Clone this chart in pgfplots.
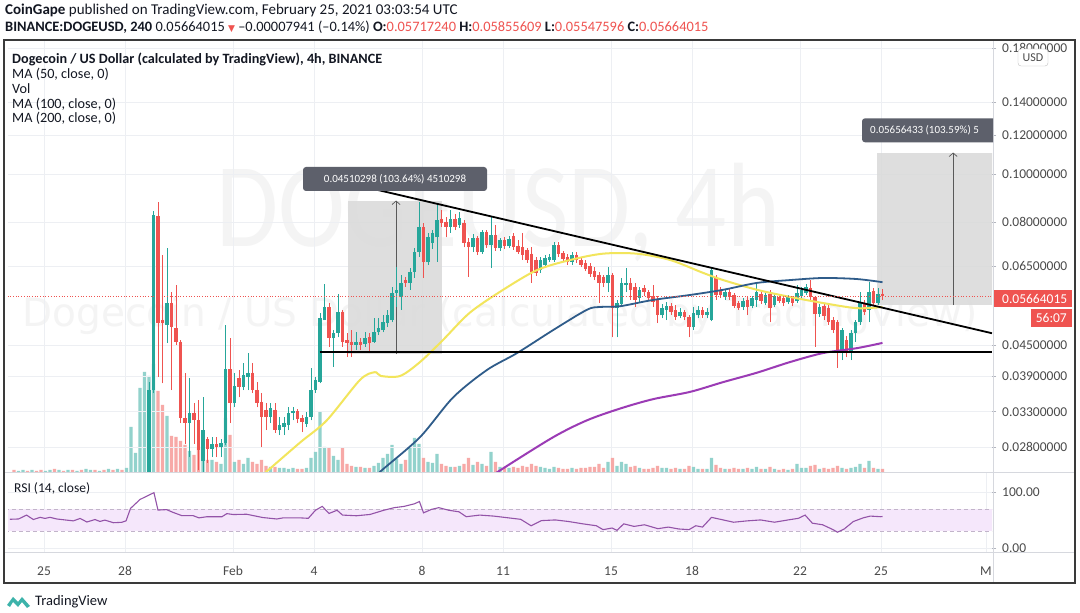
\documentclass[border=0pt]{standalone}
\usepackage{pgfplots}
\pgfplotsset{compat=1.18}
\usepackage{pgfplotstable}
\usepackage{fontspec}
\setmainfont{Carlito}
\newfontfamily\dejavu{DejaVu Sans}
\usetikzlibrary{arrows.meta}
\definecolor{up}{HTML}{26A69A}
\definecolor{dn}{HTML}{EF5350}
\definecolor{upv}{HTML}{92D2CC}
\definecolor{dnv}{HTML}{F7A9A7}
\definecolor{ma50}{HTML}{F2E55C}
\definecolor{ma100}{HTML}{2F5C8A}
\definecolor{ma200}{HTML}{9B3BB5}
\definecolor{rsic}{HTML}{9353A8}
\definecolor{rsiband}{HTML}{F5E7FB}
\definecolor{rsidash}{HTML}{C2B4CA}
\definecolor{lbl}{HTML}{5D606B}
\definecolor{gridc}{HTML}{EDEFF3}
\definecolor{tickc}{HTML}{B2B5BE}
\definecolor{txt}{HTML}{131722}
\definecolor{axt}{HTML}{4A4A4A}
\definecolor{framec}{HTML}{3A3A3A}
\definecolor{sepc}{HTML}{D6D8DE}
\definecolor{boxc}{HTML}{D9D9D9}
\definecolor{logoc}{HTML}{3DB3AA}
\newcommand\axfont{\fontsize{13.5}{15}\selectfont}

\pgfplotstableread{
k o h l c v
-30 0.0085 0.0088 0.0083 0.0087 1
-29 0.0085 0.0088 0.0083 0.0087 2
-27 0.0085 0.0088 0.0083 0.0087 2
-24 0.0085 0.0088 0.0083 0.0087 1
-23 0.0085 0.0088 0.0083 0.0087 2
-21 0.0085 0.0088 0.0083 0.0087 2
-19 0.0085 0.0088 0.0083 0.0087 2
-17 0.0085 0.0088 0.0083 0.0087 1
-15 0.0085 0.0088 0.0083 0.0087 3
-14 0.0085 0.0088 0.0083 0.0087 2
-12 0.0085 0.0088 0.0083 0.0087 1
-10 0.0085 0.0088 0.0083 0.0087 3
-8 0.0085 0.0088 0.0083 0.0087 3
-6 0.0085 0.0088 0.0083 0.0087 4
-5 0.0088 0.0105 0.0087 0.0102 45
-4 0.0102 0.0110 0.0098 0.0106 19
-3 0.0106 0.0135 0.0104 0.0130 84
-2 0.0130 0.0165 0.0125 0.0158 100
-1 0.0158 0.0380 0.0150 0.0365 96
0 0.0365 0.0843 0.0360 0.0826 108
3 0.0495 0.0709 0.0455 0.0548 56
8 0.0313 0.0387 0.0267 0.0328 21
11 0.0262 0.0353 0.0247 0.0303 30
13 0.0278 0.0293 0.0267 0.0284 12
15 0.0280 0.0290 0.0267 0.0285 8
16 0.0285 0.0495 0.0282 0.0403 54
18 0.0343 0.0396 0.0337 0.0372 10
20 0.0370 0.0415 0.0365 0.0392 8
21 0.0388 0.0434 0.0365 0.0396 14
26 0.0322 0.0343 0.0313 0.0336 5
28 0.0303 0.0322 0.0296 0.0310 4
29 0.0307 0.0322 0.0296 0.0313 4
30 0.0310 0.0337 0.0303 0.0328 3
31 0.0328 0.0337 0.0317 0.0331 4
34 0.0312 0.0330 0.0307 0.0322 4
35 0.0322 0.0405 0.0317 0.0365 14
36 0.0365 0.0388 0.0360 0.0383 20
37 0.0379 0.0523 0.0377 0.0511 60
38 0.0506 0.0599 0.0506 0.0538 25
40 0.0465 0.0483 0.0407 0.0476 16
41 0.0476 0.0572 0.0467 0.0526 12
45 0.0451 0.0478 0.0440 0.0458 5
47 0.0453 0.0478 0.0447 0.0465 4
49 0.0458 0.0511 0.0455 0.0478 6
50 0.0478 0.0511 0.0472 0.0487 9
51 0.0483 0.0518 0.0478 0.0501 14
52 0.0499 0.0531 0.0490 0.0518 18
53 0.0506 0.0591 0.0501 0.0574 27
54 0.0574 0.0648 0.0538 0.0583 13
55 0.0563 0.0625 0.0531 0.0601 8
57 0.0603 0.0645 0.0583 0.0633 25
58 0.0633 0.0709 0.0616 0.0695 34
59 0.0695 0.0878 0.0680 0.0780 28
61 0.0663 0.0760 0.0655 0.0745 10
62 0.0725 0.0771 0.0705 0.0760 9
63 0.0745 0.0866 0.0664 0.0807 18
66 0.0782 0.0846 0.0760 0.0812 5
68 0.0789 0.0838 0.0778 0.0814 6
71 0.0711 0.0755 0.0695 0.0742 7
73 0.0695 0.0771 0.0690 0.0764 8
75 0.0720 0.0818 0.0645 0.0753 20
77 0.0707 0.0742 0.0700 0.0735 5
79 0.0714 0.0750 0.0708 0.0738 4
86 0.0639 0.0680 0.0630 0.0670 5
87 0.0654 0.0686 0.0648 0.0675 4
88 0.0670 0.0690 0.0664 0.0680 3
89 0.0670 0.0728 0.0664 0.0718 5
93 0.0664 0.0695 0.0655 0.0686 4
101 0.0602 0.0648 0.0577 0.0625 10
103 0.0535 0.0556 0.0467 0.0548 6
104 0.0545 0.0616 0.0538 0.0602 10
105 0.0596 0.0645 0.0577 0.0602 8
108 0.0561 0.0591 0.0550 0.0583 4
113 0.0518 0.0545 0.0510 0.0535 4
114 0.0530 0.0551 0.0506 0.0540 4
117 0.0515 0.0535 0.0510 0.0526 3
120 0.0490 0.0538 0.0483 0.0523 5
121 0.0518 0.0540 0.0510 0.0531 3
123 0.0518 0.0535 0.0510 0.0526 3
124 0.0506 0.0645 0.0503 0.0639 14
127 0.0563 0.0583 0.0556 0.0577 3
131 0.0538 0.0561 0.0530 0.0553 3
133 0.0540 0.0566 0.0535 0.0561 3
134 0.0556 0.0602 0.0538 0.0577 5
136 0.0548 0.0575 0.0543 0.0569 3
138 0.0543 0.0572 0.0538 0.0566 3
141 0.0551 0.0569 0.0545 0.0563 2
143 0.0553 0.0596 0.0548 0.0575 8
144 0.0566 0.0591 0.0561 0.0583 4
145 0.0575 0.0599 0.0569 0.0591 4
148 0.0521 0.0545 0.0513 0.0538 3
153 0.0434 0.0487 0.0420 0.0483 4
155 0.0434 0.0483 0.0420 0.0476 4
156 0.0476 0.0506 0.0458 0.0501 5
157 0.0501 0.0577 0.0495 0.0551 8
159 0.0531 0.0604 0.0501 0.0577 11
161 0.0548 0.0588 0.0543 0.0572 3
}\up

\pgfplotstableread{
k o h l c v
-31 0.0087 0.0089 0.0084 0.0085 2
-28 0.0087 0.0089 0.0084 0.0085 1
-26 0.0087 0.0089 0.0084 0.0085 1
-25 0.0087 0.0089 0.0084 0.0085 2
-22 0.0087 0.0089 0.0084 0.0085 3
-20 0.0087 0.0089 0.0084 0.0085 1
-18 0.0087 0.0089 0.0084 0.0085 2
-16 0.0087 0.0089 0.0084 0.0085 2
-13 0.0087 0.0089 0.0084 0.0085 2
-11 0.0087 0.0089 0.0084 0.0085 2
-9 0.0087 0.0089 0.0084 0.0085 2
-7 0.0087 0.0089 0.0084 0.0085 2
1 0.0822 0.0878 0.0388 0.0500 81
2 0.0506 0.0686 0.0377 0.0500 67
4 0.0548 0.0577 0.0365 0.0490 36
5 0.0487 0.0596 0.0451 0.0458 35
6 0.0458 0.0461 0.0313 0.0320 31
7 0.0320 0.0396 0.0284 0.0313 27
9 0.0328 0.0343 0.0284 0.0317 17
10 0.0317 0.0348 0.0251 0.0276 25
12 0.0290 0.0293 0.0260 0.0278 12
14 0.0284 0.0293 0.0267 0.0280 10
17 0.0403 0.0465 0.0313 0.0343 37
19 0.0387 0.0401 0.0353 0.0370 12
22 0.0396 0.0415 0.0360 0.0365 10
23 0.0365 0.0379 0.0337 0.0343 8
24 0.0345 0.0360 0.0280 0.0322 12
25 0.0333 0.0343 0.0303 0.0322 6
27 0.0333 0.0343 0.0299 0.0303 5
32 0.0331 0.0334 0.0313 0.0319 3
33 0.0320 0.0325 0.0300 0.0315 3
39 0.0538 0.0548 0.0447 0.0465 24
42 0.0526 0.0531 0.0447 0.0458 24
43 0.0461 0.0476 0.0426 0.0455 8
44 0.0458 0.0483 0.0426 0.0451 6
46 0.0458 0.0465 0.0440 0.0451 5
48 0.0467 0.0476 0.0434 0.0455 4
56 0.0610 0.0619 0.0591 0.0603 12
60 0.0780 0.0796 0.0616 0.0663 14
64 0.0812 0.0846 0.0782 0.0796 8
65 0.0800 0.0818 0.0745 0.0780 6
67 0.0812 0.0830 0.0770 0.0782 5
69 0.0796 0.0807 0.0711 0.0725 8
70 0.0728 0.0742 0.0619 0.0711 14
72 0.0742 0.0750 0.0686 0.0695 10
74 0.0764 0.0771 0.0710 0.0720 6
76 0.0753 0.0789 0.0700 0.0707 10
78 0.0735 0.0745 0.0705 0.0714 5
80 0.0750 0.0760 0.0702 0.0711 5
81 0.0716 0.0735 0.0690 0.0695 4
82 0.0711 0.0760 0.0670 0.0686 6
83 0.0702 0.0710 0.0662 0.0670 5
84 0.0690 0.0711 0.0602 0.0633 8
85 0.0670 0.0680 0.0622 0.0630 6
90 0.0718 0.0728 0.0680 0.0690 4
91 0.0692 0.0700 0.0664 0.0674 3
92 0.0680 0.0690 0.0655 0.0664 3
94 0.0686 0.0695 0.0662 0.0670 3
95 0.0670 0.0680 0.0648 0.0654 4
96 0.0660 0.0670 0.0636 0.0642 4
97 0.0650 0.0660 0.0620 0.0628 5
98 0.0636 0.0648 0.0610 0.0619 5
99 0.0625 0.0633 0.0548 0.0602 8
100 0.0620 0.0625 0.0590 0.0602 4
102 0.0625 0.0630 0.0467 0.0535 14
106 0.0602 0.0616 0.0556 0.0583 5
107 0.0591 0.0602 0.0538 0.0556 6
109 0.0588 0.0596 0.0566 0.0577 3
110 0.0577 0.0583 0.0553 0.0561 3
111 0.0566 0.0596 0.0538 0.0551 4
112 0.0556 0.0566 0.0499 0.0518 6
115 0.0540 0.0548 0.0518 0.0526 3
116 0.0530 0.0543 0.0506 0.0513 4
118 0.0526 0.0530 0.0506 0.0513 3
119 0.0513 0.0518 0.0467 0.0490 6
122 0.0531 0.0538 0.0510 0.0518 3
125 0.0620 0.0625 0.0556 0.0569 7
126 0.0583 0.0591 0.0561 0.0569 4
128 0.0577 0.0585 0.0556 0.0563 3
129 0.0569 0.0575 0.0535 0.0540 4
130 0.0548 0.0553 0.0530 0.0535 3
132 0.0556 0.0563 0.0518 0.0538 4
135 0.0572 0.0580 0.0545 0.0553 3
137 0.0572 0.0583 0.0501 0.0535 5
139 0.0563 0.0569 0.0548 0.0553 2
140 0.0561 0.0566 0.0540 0.0548 3
142 0.0561 0.0566 0.0540 0.0548 3
146 0.0588 0.0610 0.0556 0.0563 6
147 0.0563 0.0566 0.0447 0.0521 7
149 0.0540 0.0545 0.0506 0.0515 4
150 0.0535 0.0543 0.0495 0.0501 3
151 0.0506 0.0513 0.0476 0.0483 4
152 0.0501 0.0506 0.0405 0.0434 6
154 0.0461 0.0470 0.0426 0.0434 3
158 0.0548 0.0556 0.0518 0.0526 4
160 0.0580 0.0588 0.0543 0.0548 4
162 0.05717240 0.05855609 0.05547596 0.05664015 3
}\dn

% build segment lists (x,a)(x,b)(x,nan) from the tables
\newcommand\buildsegs[4]{%
  \pgfplotstablegetrowsof{#1}%
  \pgfmathtruncatemacro\lastrow{\pgfplotsretval-1}%
  \gdef#4{}%
  \pgfplotsforeachungrouped \i in {0,...,\lastrow}{%
    \pgfplotstablegetelem{\i}{k}\of{#1}\let\segk\pgfplotsretval
    \pgfplotstablegetelem{\i}{#2}\of{#1}\let\sega\pgfplotsretval
    \pgfplotstablegetelem{\i}{#3}\of{#1}\let\segb\pgfplotsretval
    \xdef#4{#4 (\segk,\sega) (\segk,\segb) (\segk,nan)}%
  }%
}
\buildsegs{\up}{l}{h}\upwick
\buildsegs{\dn}{l}{h}\dnwick
\buildsegs{\up}{o}{c}\upbody
\buildsegs{\dn}{o}{c}\dnbody

\begin{document}
\begin{tikzpicture}[x=1pt,y=1pt]
\fill[white] (0pt,0pt) rectangle (1080pt,613pt);
% watermarks
\node[anchor=base west, text=black!4.5, inner sep=0, xscale=0.84, font=\fontsize{120}{120}\selectfont] at (216pt,366pt) {DOGEUSD, 4h};
\node[anchor=base, text=black!4.5, inner sep=0, font=\dejavu\fontsize{39}{39}\selectfont] at (500pt,286pt) {Dogecoin / US Dollar (calculated by TradingView)};

% volume pane
\begin{axis}[at={(8pt,141pt)}, anchor=south west, width=984pt, height=432pt, scale only axis,
  xmin=-32.33, xmax=186.33, ymin=0, ymax=432, axis line style={draw=none},
  ytick=\empty, xtick={-24.33,-6.33,17.67,35.67,59.67,77.67,101.67,119.67,143.67,161.67},
  xticklabels={}, major tick length=0pt, xmajorgrids, grid style={gridc, line width=0.7pt}]
\addplot[ybar, bar width=3.3pt, bar shift=0pt, fill=upv, draw=none] table[x=k,y=v]{\up};
\addplot[ybar, bar width=3.3pt, bar shift=0pt, fill=dnv, draw=none] table[x=k,y=v]{\dn};
\end{axis}

% price pane
\begin{axis}[at={(8pt,141pt)}, anchor=south west, width=984pt, height=432pt, scale only axis,
  xmin=-32.33, xmax=186.33, ymode=log, ymin=0.024912, ymax=0.187,
  axis line style={draw=none}, xtick=\empty,
  ytick={0.028,0.033,0.039,0.045,0.065,0.08,0.1,0.12,0.14,0.18},
  yticklabels={0.02800000,0.03300000,0.03900000,0.04500000,0.06500000,0.08000000,0.10000000,0.12000000,0.14000000,0.18000000},
  yticklabel pos=right, ytick pos=right, ymajorgrids, grid style={gridc, line width=0.7pt},
  tick align=outside, major tick length=4pt, ytick style={draw=tickc, line width=0.7pt},
  yticklabel style={font=\axfont, text=axt, anchor=west, inner sep=0pt, xshift=6pt},
  unbounded coords=jump]
% measuring boxes
\addplot[fill=boxc, draw=none, fill opacity=0.85] coordinates {(43.2,0.0432)(64.2,0.0432)(64.2,0.0884)(43.2,0.0884)};
\addplot[fill=boxc, draw=none, fill opacity=0.85] coordinates {(160.8,0.0543)(190,0.0543)(190,0.1106)(160.8,0.1106)};
\addplot[draw=black!65, line width=0.7pt, -{Straight Barb[length=3.5pt,width=8pt]}] coordinates {(53.9,0.0432)(53.9,0.0884)};
\addplot[draw=black!65, line width=0.7pt, -{Straight Barb[length=3.5pt,width=8pt]}] coordinates {(177.7,0.0543)(177.7,0.1106)};
% candles
\edef\tmp{\noexpand\addplot[up, line width=0.9pt, forget plot] coordinates {\upwick};}\tmp
\edef\tmp{\noexpand\addplot[dn, line width=0.9pt, forget plot] coordinates {\dnwick};}\tmp
\edef\tmp{\noexpand\addplot[up, line width=3.2pt, forget plot] coordinates {\upbody};}\tmp
\edef\tmp{\noexpand\addplot[dn, line width=3.2pt, forget plot] coordinates {\dnbody};}\tmp
% moving averages
\addplot[ma50, line width=2pt, smooth] coordinates {(22,0.0236)(25.2,0.0250)(32.6,0.0286)(38.5,0.0317)(45.9,0.0383)(49.2,0.0397)(50.5,0.0390)(54.8,0.0390)(59.2,0.0416)(64.3,0.0461)(70.3,0.0524)(77.7,0.0583)(85.2,0.0639)(92.6,0.0670)(99.9,0.0690)(107.4,0.0690)(114.8,0.0670)(122.1,0.0631)(126.6,0.0610)(134.1,0.0583)(141.4,0.0564)(148.8,0.0548)(156.3,0.0535)(162,0.0538)};
\addplot[ma100, line width=1.8pt, smooth] coordinates {(48,0.0238)(50.7,0.0251)(59.2,0.0293)(66.6,0.0353)(74.1,0.0401)(80.8,0.0434)(88.8,0.0483)(96.3,0.0531)(99.2,0.0538)(103.7,0.0540)(111.0,0.0556)(119.2,0.0569)(126.6,0.0583)(134.1,0.0602)(141.4,0.0610)(148.8,0.0616)(156.3,0.0613)(162,0.0604)};
\addplot[ma200, line width=2pt, smooth] coordinates {(74,0.0240)(77.0,0.0251)(88.8,0.0293)(96.3,0.0317)(103.7,0.0335)(111.0,0.0350)(119.2,0.0362)(126.6,0.0379)(134.1,0.0396)(141.4,0.0416)(148.8,0.0434)(156.3,0.0444)(162,0.0455)};
% trend lines
\addplot[black, line width=1.8pt] coordinates {(37.0,0.0989)(186.33,0.0476)};
\addplot[black, line width=1.8pt] coordinates {(36.9,0.0436)(186.33,0.0436)};
% last price
\addplot[dn, dotted, line width=0.7pt] coordinates {(-33,0.05664)(187,0.05664)};
\end{axis}

% RSI pane
\begin{axis}[at={(8pt,60pt)}, anchor=south west, width=984pt, height=80pt, scale only axis,
  xmin=-32.33, xmax=186.33, ymin=-9, ymax=134.5, axis line style={draw=none},
  xtick={-24.33,-6.33,17.67,35.67,59.67,77.67,101.67,119.67,143.67,161.67,184.98},
  xticklabels={25,28,Feb,4,8,11,15,18,22,25,M},
  ytick={0,100}, yticklabels={0.00,100.00}, yticklabel pos=right, ytick pos=right,
  xmajorgrids, ymajorgrids, grid style={gridc, line width=0.7pt},
  tick align=outside, major tick length=4pt, ytick style={draw=tickc, line width=0.7pt},
  xtick style={draw=none},
  yticklabel style={font=\axfont, text=axt, anchor=west, inner sep=0pt, xshift=6pt},
  xticklabel style={font=\axfont, text=axt, yshift=-6pt}]
\addplot[fill=rsiband, draw=none] coordinates {(-33,30)(187,30)(187,70)(-33,70)};
\addplot[rsidash, line width=0.8pt, dash pattern=on 4pt off 3pt] coordinates {(-33,70)(187,70)};
\addplot[rsidash, line width=0.8pt, dash pattern=on 4pt off 3pt] coordinates {(-33,30)(187,30)};
\addplot[rsic, line width=1.1pt] coordinates {
(-31.9,51.5)(-30.0,52)(-28.2,59)(-26.7,51)(-25.2,55)(-24.1,53)(-23.0,55)(-21.5,52)(-19.3,50)(-17.8,48.6)
(-16.3,53)(-14.8,46.6)(-13.0,51)(-11.9,47.6)(-10.8,50)(-8.9,45.3)(-7.1,46)(-6.1,48.6)(-5.1,71)(-3.0,87)
(0.1,99.2)(1.0,68)(2.9,68.8)(4.3,64)(6.3,58)(8.8,58)(10.1,54)(11.8,56)(15.2,56)(16.3,61.6)(17.7,60)
(20.7,60.5)(24.3,54.6)(27.4,52)(28.8,54)(32.6,54)(34.4,53.2)(36.0,67.7)(37.5,74.6)(39.0,61.9)(40.8,67.7)
(42.0,59.0)(45.1,57.8)(48.1,60.1)(51.2,67.7)(53.5,72.3)(55.7,74.6)(58.0,79.3)(59.1,83.3)(60.0,63.0)
(61.8,69.3)(63.4,72.3)(65.6,67.7)(67.9,64.8)(69.5,56.1)(72.5,59.0)(75.6,57.2)(78.6,54.3)(81.6,51.4)
(83.9,39.9)(86.2,49.1)(89.3,50.3)(92.3,47.4)(95.4,43.3)(98.4,39.9)(99.9,32.9)(101.9,35.8)(103.0,31.7)
(104.5,43.3)(106.8,38.7)(109.1,41.6)(112.1,34.6)(114.4,37.5)(116.7,34.1)(119.0,32.9)(120.5,39.9)
(122.0,37.5)(124.0,54.9)(126.6,50.3)(128.9,46.2)(131.9,48.6)(134.9,50.3)(138.0,46.2)(141.0,50.3)
(143.3,53.2)(144.8,59.0)(146.4,44.5)(148.7,41.6)(151.0,32.9)(152.0,28.3)(153.5,34.1)(155.5,47.4)
(157.8,54.3)(159.3,57.2)(161.6,56.1)(162,56.5)};
\end{axis}

% frame and separators
\draw[sepc, line width=1pt] (4pt,140.5pt) -- (1075pt,140.5pt);
\draw[sepc, line width=1pt] (4pt,60pt) -- (1075pt,60pt);
\draw[sepc, line width=1pt] (993pt,30pt) -- (993pt,573pt);
\draw[framec, line width=1.3pt] (4pt,30pt) rectangle (1075pt,573pt);

% measure labels
\node[fill=lbl, text=white, rounded corners=3pt, minimum width=184pt, minimum height=24pt, inner sep=0pt, font=\fontsize{11}{13}\selectfont] at (395pt,434pt) {0.04510298 (103.64\%) 4510298};
\begin{scope}
\clip (0pt,0pt) rectangle (993pt,613pt);
\fill[lbl, rounded corners=3pt] (862pt,470.7pt) rectangle (1010pt,494.7pt);
\node[anchor=west, text=white, inner sep=0pt, font=\fontsize{11}{13}\selectfont] at (870pt,482.7pt) {0.05656433 (103.59\%) 5};
\end{scope}

% last price boxes
\fill[dn] (994pt,305.7pt) rectangle (1072pt,323pt);
\node[anchor=west, text=white, font=\axfont, inner sep=0pt] at (1002pt,314.3pt) {0.05664015};
\fill[dn] (1030.7pt,286.3pt) rectangle (1072pt,304pt);
\node[text=white, font=\axfont, inner sep=0pt] at (1051.3pt,295.1pt) {56:07};

% USD box
\draw[fill=white, draw=black!25, rounded corners=3pt] (1018pt,547pt) rectangle (1048pt,564pt);
\node[text=axt, font=\fontsize{12}{13}\selectfont, inner sep=0pt] at (1033pt,555.5pt) {USD};

% header
\node[anchor=base west, inner sep=0pt, text=txt, font=\fontsize{15}{16}\selectfont] at (5pt,598.5pt) {\textbf{CoinGape} published on TradingView.com, February 25, 2021 03:03:54 UTC};
\node[anchor=base west, inner sep=0pt, text=txt, font=\fontsize{14.4}{16}\selectfont] at (5pt,581.5pt) {\textbf{BINANCE:DOGEUSD, 240} 0.05664015 {\color{dn}\dejavu\fontsize{9}{10}\selectfont ▼} –0.00007941 (–0.14\%) \textbf{O:}{\color{dn}0.05717240} \textbf{H:}{\color{dn}0.05855609} \textbf{L:}{\color{dn}0.05547596} \textbf{C:}{\color{dn}0.05664015}};

% legend
\begin{scope}[every node/.style={anchor=base west, inner sep=0pt, text=txt, font=\fontsize{14.2}{16}\selectfont}]
\node at (12pt,549.5pt) {\textbf{Dogecoin / US Dollar (calculated by TradingView), 4h, BINANCE}};
\node at (12pt,534.5pt) {MA (50, close, 0)};
\node at (12pt,519.5pt) {Vol};
\node at (12pt,504.5pt) {MA (100, close, 0)};
\node at (12pt,490pt) {MA (200, close, 0)};
\end{scope}
\node[anchor=base west, inner sep=0pt, text=txt, font=\fontsize{13.5}{15}\selectfont] at (14pt,120.5pt) {RSI (14, close)};

% TradingView logo
\fill[logoc] (7pt,8pt) -- (13pt,16pt) -- (18pt,11pt) -- (22pt,16pt) -- (30pt,7pt) -- (27pt,5pt) -- (22pt,11pt) -- (18pt,6pt) -- (13pt,11pt) -- (10pt,6pt) -- cycle;
\node[anchor=base west, inner sep=0pt, text=txt, font=\fontsize{14.5}{16}\selectfont] at (35pt,7pt) {TradingView};
\end{tikzpicture}
\end{document}
